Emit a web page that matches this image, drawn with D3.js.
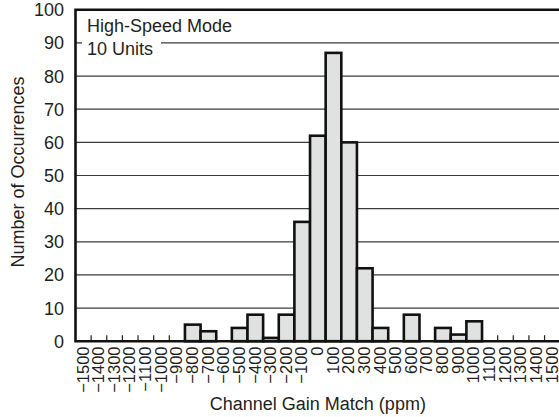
<!DOCTYPE html>
<html>
<head>
<meta charset="utf-8">
<script src="https://cdn.jsdelivr.net/npm/d3@7"></script>
<style>
  html, body { margin: 0; padding: 0; background: #fff; }
  svg { display: block; }
  text { font-family: "Liberation Sans", Arial, Helvetica, sans-serif; fill: #231f20; }
</style>
</head>
<body>
<svg id="chart" width="559" height="417"></svg>
<script>
const categories = [-1500, -1400, -1300, -1200, -1100, -1000, -900, -800, -700, -600, -500, -400, -300, -200, -100, 0, 100, 200, 300, 400, 500, 600, 700, 800, 900, 1000, 1100, 1200, 1300, 1400, 1500];
const counts = [0, 0, 0, 0, 0, 0, 0, 5, 3, 0, 4, 8, 1, 8, 36, 62, 87, 60, 22, 4, 0, 8, 0, 4, 2, 6, 0, 0, 0, 0, 0];
const yTicks = [0, 10, 20, 30, 40, 50, 60, 70, 80, 90, 100];
const legendLines = ["High-Speed Mode", "10 Units"];
const xTitle = "Channel Gain Match (ppm)";
const yTitle = "Number of Occurrences";

const svg = d3.select("#chart");
const pLeft = 75.5, pRight = 560.2, pTop = 9.8, pBottom = 341.2;

const x = d3.scaleBand().domain(categories).range([pLeft, pRight]).padding(0);
const y = d3.scaleLinear().domain([0, 100]).range([pBottom, pTop]);

// gridlines
svg.append("g").selectAll("line")
  .data(yTicks.filter(d => d > 0 && d < 100))
  .join("line")
  .attr("x1", pLeft).attr("x2", pRight + 2)
  .attr("y1", d => y(d)).attr("y2", d => y(d))
  .attr("stroke", "#3a3a3a").attr("stroke-width", 1.2);

// minor ticks at band edges
svg.append("g").selectAll("line")
  .data(categories.slice(1))
  .join("line")
  .attr("x1", d => x(d)).attr("x2", d => x(d))
  .attr("y1", pBottom).attr("y2", pBottom - 6)
  .attr("stroke", "#231f20").attr("stroke-width", 1.2);

// legend box (white background over gridline)
svg.append("rect")
  .attr("x", 82).attr("y", 13).attr("width", 79).attr("height", 50)
  .attr("fill", "#fff");
svg.append("g").selectAll("text")
  .data(legendLines)
  .join("text")
  .attr("x", 87)
  .attr("y", (d, i) => 31.5 + i * 23.5)
  .attr("font-size", 18)
  .text(d => d);

// bars
svg.append("g").selectAll("rect")
  .data(categories.map((c, i) => ({ c, v: counts[i] })).filter(d => d.v > 0))
  .join("rect")
  .attr("x", d => x(d.c))
  .attr("y", d => y(d.v))
  .attr("width", x.bandwidth())
  .attr("height", d => y(0) - y(d.v))
  .attr("fill", "#e0e1e1")
  .attr("stroke", "#111")
  .attr("stroke-width", 2.6);

// frame
svg.append("path")
  .attr("d", `M${pRight + 3},${pTop}H${pLeft}V${pBottom}H${pRight + 3}`)
  .attr("fill", "none").attr("stroke", "#111").attr("stroke-width", 2.6);

// y tick labels
svg.append("g").selectAll("text")
  .data(yTicks)
  .join("text")
  .attr("x", 64)
  .attr("y", d => y(d))
  .attr("dy", "0.36em")
  .attr("text-anchor", "end")
  .attr("font-size", 18)
  .text(d => d);

// x tick labels (rotated)
svg.append("g").selectAll("text")
  .data(categories)
  .join("text")
  .attr("transform", d => `translate(${x(d) + x.bandwidth() / 2 + 5.2},346.5) rotate(-90)`)
  .attr("text-anchor", "end")
  .attr("font-size", 16.5)
  .text(d => d < 0 ? "\u2212" + Math.abs(d) : String(d));

// axis titles
svg.append("text")
  .attr("x", (pLeft + pRight) / 2)
  .attr("y", 410)
  .attr("text-anchor", "middle")
  .attr("font-size", 18)
  .text(xTitle);

svg.append("text")
  .attr("transform", `translate(24,172) rotate(-90)`)
  .attr("text-anchor", "middle")
  .attr("font-size", 18)
  .text(yTitle);
</script>
</body>
</html>
